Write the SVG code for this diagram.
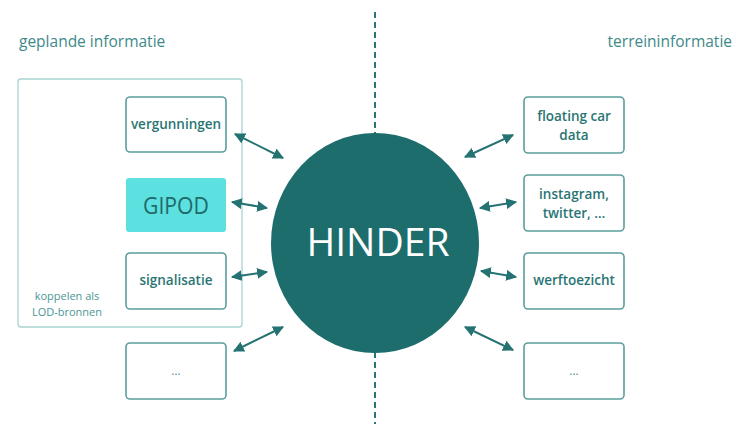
<svg xmlns="http://www.w3.org/2000/svg" width="736" height="424" viewBox="0 0 736 424">
<style>
.title{font-family:"Open Sans","Liberation Sans",sans-serif;font-size:15.5px;fill:#3d8a89}
.box{fill:#fff;stroke:#5a9e9d;stroke-width:1.6}
.lbl{font-family:"Open Sans","Liberation Sans",sans-serif;font-size:13.5px;font-weight:600;fill:#2a7574;text-anchor:middle}
.dots{font-family:"Open Sans","Liberation Sans",sans-serif;font-size:12px;fill:#5a8e8e;text-anchor:middle}
.small{font-family:"Open Sans","Liberation Sans",sans-serif;font-size:11px;fill:#4a9695;text-anchor:middle}
.arr{stroke:#257272;stroke-width:2;fill:none;marker-start:url(#ah);marker-end:url(#ah)}
</style>
<defs>
<marker id="ah" viewBox="0 0 10 10" refX="9" refY="5" markerWidth="5.5" markerHeight="5.5" orient="auto-start-reverse">
<path d="M0,0 L10,5 L0,10 z" fill="#257272"/>
</marker>
</defs>
<rect width="736" height="424" fill="#fff"/>
<line x1="375" y1="12" x2="375" y2="424" stroke="#2a7575" stroke-width="2" stroke-dasharray="6,4"/>
<text class="title" x="19" y="47">geplande informatie</text>
<text class="title" x="732" y="47" text-anchor="end">terreininformatie</text>
<g id="lod-group">
<rect x="18" y="79" width="224" height="248" rx="3" fill="none" stroke="#a9d3d1" stroke-width="1.3"/>
<text class="small" x="67" y="300">koppelen als</text>
<text class="small" x="67" y="316">LOD-bronnen</text>
</g>
<g id="vergunningen"><rect class="box" x="126" y="97" width="100" height="55" rx="4"/><text class="lbl" x="176" y="129">vergunningen</text></g>
<g id="gipod"><rect x="126" y="178" width="100" height="54" rx="3" fill="#5ce0e0"/><text x="176" y="214" text-anchor="middle" font-family="Open Sans, Liberation Sans, sans-serif" font-size="23" font-weight="500" fill="#1f6a6a" textLength="66" lengthAdjust="spacingAndGlyphs">GIPOD</text></g>
<g id="signalisatie"><rect class="box" x="126" y="253" width="100" height="56" rx="4"/><text class="lbl" x="176" y="285">signalisatie</text></g>
<g id="left-more"><rect class="box" x="126" y="343" width="100" height="56" rx="4"/><text class="dots" x="176" y="375">…</text></g>
<g id="floating"><rect class="box" x="524" y="97" width="100" height="56" rx="4"/><text class="lbl" x="574" y="121">floating car</text><text class="lbl" x="574" y="140">data</text></g>
<g id="instagram"><rect class="box" x="524" y="175" width="100" height="56" rx="4"/><text class="lbl" x="574" y="199">instagram,</text><text class="lbl" x="574" y="218">twitter, …</text></g>
<g id="werftoezicht"><rect class="box" x="524" y="253" width="100" height="56" rx="4"/><text class="lbl" x="574" y="285">werftoezicht</text></g>
<g id="right-more"><rect class="box" x="524" y="343" width="100" height="56" rx="4"/><text class="dots" x="574" y="375">…</text></g>
<g id="hinder">
<ellipse cx="375" cy="243" rx="104" ry="110" fill="#1d6d6d"/>
<text x="378" y="256" text-anchor="middle" font-family="Open Sans, Liberation Sans, sans-serif" font-size="39" fill="#fff">HINDER</text>
</g>
<g id="connectors">
<line class="arr" x1="235" y1="134" x2="283" y2="158"/>
<line class="arr" x1="232" y1="202" x2="267" y2="208"/>
<line class="arr" x1="232" y1="277" x2="267" y2="272"/>
<line class="arr" x1="234" y1="351" x2="283" y2="327"/>
<line class="arr" x1="465" y1="157" x2="513" y2="135"/>
<line class="arr" x1="480" y1="208" x2="516" y2="202"/>
<line class="arr" x1="481" y1="271" x2="516" y2="277"/>
<line class="arr" x1="465" y1="327" x2="513" y2="350"/>
</g>
</svg>
